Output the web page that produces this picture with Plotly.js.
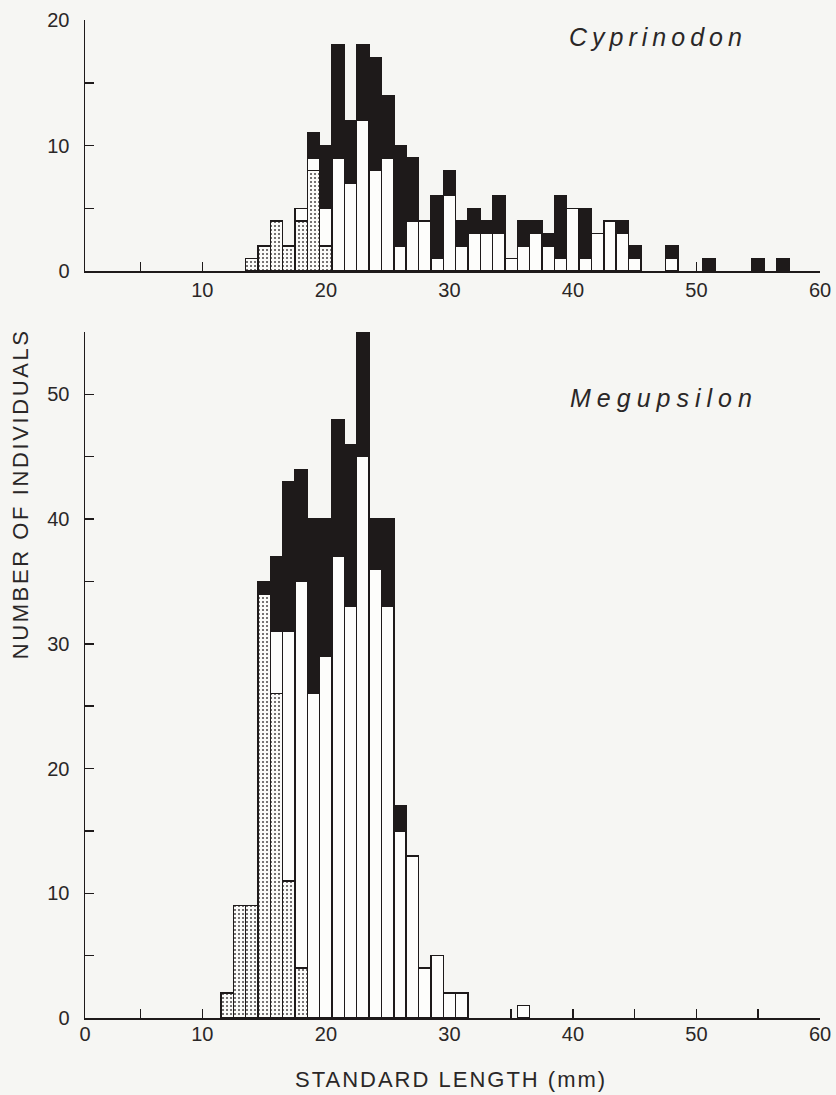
<!DOCTYPE html>
<html>
<head>
<meta charset="utf-8">
<script src="https://cdn.plot.ly/plotly-3.0.1.min.js"></script>
<style>
  html, body { margin: 0; padding: 0; background: #f6f6f3; }
  #chart { width: 836px; height: 1095px; }
</style>
</head>
<body>
<div id="chart"></div>
<script>
// ---- Data: Cyprinodon (top panel) ----
const cypLength = [14,15,16,17,18,19,20,21,22,23,24,25,26,27,28,29,30,31,32,33,34,35,36,37,38,39,40,41,42,43,44,45,46,47,48,49,50,51,52,53,54,55,56,57];
const cypStippled = [1,2,4,2,4,8,2,0,0,0,0,0,0,0,0,0,0,0,0,0,0,0,0,0,0,0,0,0,0,0,0,0,0,0,0,0,0,0,0,0,0,0,0,0];
const cypWhite    = [0,0,0,0,1,1,3,9,7,12,8,9,2,4,4,1,6,2,3,3,3,1,2,3,2,1,5,1,3,4,3,1,0,0,1,0,0,0,0,0,0,0,0,0];
const cypBlack    = [0,0,0,0,0,2,5,9,5,6,9,5,8,5,0,5,2,2,2,1,3,0,2,1,1,5,0,4,0,0,1,1,0,0,1,0,0,1,0,0,0,1,0,1];

// ---- Data: Megupsilon (bottom panel) ----
const megLength = [12,13,14,15,16,17,18,19,20,21,22,23,24,25,26,27,28,29,30,31,32,33,34,35,36];
const megStippled = [2,9,9,34,26,11,4,0,0,0,0,0,0,0,0,0,0,0,0,0,0,0,0,0,0];
const megWhite    = [0,0,0,0,5,20,31,26,29,37,33,45,36,33,15,13,4,5,2,2,0,0,0,0,1];
const megBlack    = [0,0,0,1,6,12,9,14,11,11,13,10,4,7,2,0,0,0,0,0,0,0,0,0,0];

// ---- Tick labels ----
const xTickVals = [5,10,15,20,25,30,35,40,45,50,55,60];
const xTickText = ['','10','','20','','30','','40','','50','','60'];
const xTickValsBottom = [0.5,5,10,15,20,25,30,35,40,45,50,55,60];
const xTickTextBottom = ['0','','10','','20','','30','','40','','50','','60'];
const yTickValsTop = [0,5,10,15,20];
const yTickTextTop = ['0','','10','','20'];
const yTickValsBottom = [0,5,10,15,20,25,30,35,40,45,50,55];
const yTickTextBottom = ['0','','10','','20','','30','','40','','50',''];

const speciesTop = 'Cyprinodon';
const speciesBottom = 'Megupsilon';
const xTitle = 'STANDARD LENGTH (mm)';
const yTitle = 'NUMBER OF INDIVIDUALS';

// ---- Styles ----
const BG = '#f6f6f3';
const INK = '#1e1a1a';
const TXT = '#2a2727';
const FONT = 'Liberation Sans, Arial, sans-serif';
const outline = { color: INK, width: 1.4 };
const stipple = { shape: '.', fgcolor: '#4a4646', bgcolor: '#fbfbf9', size: 4, solidity: 0.2, fillmode: 'replace' };

// zero counts are left empty so no flat outline is drawn on the axis
const nz = arr => arr.map(v => (v === 0 ? null : v));

function traces(xs, st, wh, bl, xa, ya) {
  return [
    { type: 'bar', x: xs, y: nz(st), xaxis: xa, yaxis: ya, width: 1,
      marker: { color: '#fbfbf9', line: outline, pattern: stipple }, hoverinfo: 'skip' },
    { type: 'bar', x: xs, y: nz(wh), xaxis: xa, yaxis: ya, width: 1,
      marker: { color: '#fdfdfb', line: outline }, hoverinfo: 'skip' },
    { type: 'bar', x: xs, y: nz(bl), xaxis: xa, yaxis: ya, width: 1,
      marker: { color: INK, line: outline }, hoverinfo: 'skip' }
  ];
}

const data = [
  ...traces(cypLength, cypStippled, cypWhite, cypBlack, 'x', 'y'),
  ...traces(megLength, megStippled, megWhite, megBlack, 'x2', 'y2')
];

const W = 836, H = 1095;
const px = v => v / W;
const py = v => (H - v) / H;

const axCommon = {
  showline: true, linecolor: INK, linewidth: 1.5,
  ticks: 'inside', tickcolor: INK, tickwidth: 1.5,
  showgrid: false, zeroline: false, fixedrange: true,
  tickfont: { family: FONT, size: 20, color: TXT },
  tickmode: 'array'
};

const layout = {
  width: W, height: H,
  margin: { l: 0, r: 0, t: 0, b: 0 },
  paper_bgcolor: BG, plot_bgcolor: 'rgba(0,0,0,0)',
  barmode: 'stack', bargap: 0, showlegend: false,
  xaxis: Object.assign({}, axCommon, {
    domain: [px(85), px(820)], anchor: 'y', range: [0.5, 60],
    tickvals: xTickVals, ticktext: xTickText, ticklen: 9,
    layer: 'below traces', ticklabelstandoff: 0
  }),
  yaxis: Object.assign({}, axCommon, {
    domain: [py(271), py(20)], anchor: 'x', range: [0, 20],
    tickvals: yTickValsTop, ticktext: yTickTextTop, ticklen: 9,
    ticklabelstandoff: 10
  }),
  xaxis2: Object.assign({}, axCommon, {
    domain: [px(85), px(820)], anchor: 'y2', range: [0.5, 60],
    tickvals: xTickValsBottom, ticktext: xTickTextBottom, ticklen: 9,
    layer: 'below traces', ticklabelstandoff: -3
  }),
  yaxis2: Object.assign({}, axCommon, {
    domain: [py(1018), py(332)], anchor: 'x2', range: [0, 55],
    tickvals: yTickValsBottom, ticktext: yTickTextBottom, ticklen: 9,
    ticklabelstandoff: 10
  }),
  annotations: [
    { text: speciesTop, xref: 'paper', yref: 'paper', x: px(658), y: py(37),
      xanchor: 'center', yanchor: 'middle', showarrow: false,
      font: { family: FONT, size: 25, color: TXT, style: 'italic' } },
    { text: speciesBottom, xref: 'paper', yref: 'paper', x: px(664), y: py(398),
      xanchor: 'center', yanchor: 'middle', showarrow: false,
      font: { family: FONT, size: 25, color: TXT, style: 'italic' } },
    { text: xTitle, xref: 'paper', yref: 'paper', x: px(451), y: py(1079),
      xanchor: 'center', yanchor: 'middle', showarrow: false,
      font: { family: FONT, size: 22, color: TXT } },
    { text: yTitle, xref: 'paper', yref: 'paper', x: px(20), y: py(494),
      xanchor: 'center', yanchor: 'middle', showarrow: false, textangle: -90,
      font: { family: FONT, size: 22, color: TXT } }
  ]
};

const spacing = {};
spacing[speciesTop] = 5;
spacing[speciesBottom] = 6;
spacing[xTitle] = 2;
spacing[yTitle] = 2.6;

Plotly.newPlot('chart', data, layout, { staticPlot: true, displayModeBar: false }).then(gd => {
  gd.querySelectorAll('text.annotation-text').forEach(t => {
    const s = spacing[t.textContent];
    if (s) t.style.letterSpacing = s + 'px';
  });
});
</script>
</body>
</html>
